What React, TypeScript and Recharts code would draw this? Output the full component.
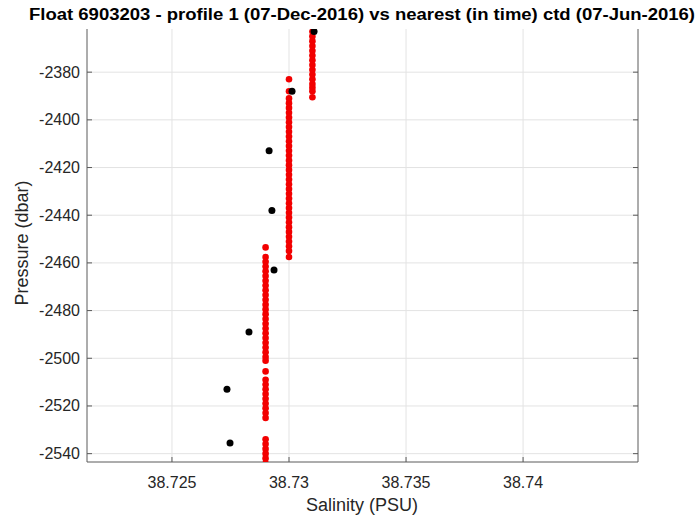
import React from 'react';
import {
    CartesianGrid,
    Scatter,
    ScatterChart,
    XAxis,
    YAxis,
} from 'recharts';

// float profile, red points, one column per salinity reading
const floatColA = 38.731;
const floatPresA = [
    -2363, -2365, -2367, -2369, -2371, -2373, -2375, -2377, -2379, -2381,
    -2383, -2385, -2386.5, -2388, -2390.5,
];
const floatColB = 38.73;
const floatPresB = [
    -2383, -2388, -2391, -2393, -2395, -2397, -2399, -2401, -2403, -2405,
    -2407, -2409, -2411, -2413, -2415, -2417, -2419, -2421, -2423, -2425,
    -2427, -2429, -2431, -2433, -2435, -2437, -2439, -2441, -2443, -2445,
    -2447, -2449, -2451, -2453, -2455, -2457.5,
];
const floatColC = 38.729;
const floatPresC = [
    -2453.5, -2457.5, -2459.5, -2461.5, -2463.5, -2465.5, -2467.5, -2469.5,
    -2471.5, -2473.5, -2475.5, -2477.5, -2479.5, -2481.5, -2483.5, -2485.5,
    -2487.5, -2489.5, -2491.5, -2493.5, -2495.5, -2497.5, -2499.5, -2501,
    -2505.5, -2509, -2511, -2513, -2515, -2517, -2519, -2521, -2523, -2525,
    -2534, -2536, -2538, -2540, -2542, -2544,
];

// nearest ctd, black points
const ctdSalinity = [
    38.73107, 38.73013, 38.72915, 38.72927, 38.72936, 38.72829, 38.72735,
    38.72748,
];
const ctdPressure = [-2363, -2388, -2413, -2438, -2463, -2489, -2513, -2535.5];

const xTicks = [38.725, 38.73, 38.735, 38.74];
const yTicks = [-2540, -2520, -2500, -2480, -2460, -2440, -2420, -2400, -2380];

const xDomain = [38.72137, 38.74491];
const yDomain = [-2543.5, -2361.9];

const titleText =
    'Float 6903203 - profile 1 (07-Dec-2016) vs nearest (in time) ctd (07-Jun-2016)';

const floatData = [
    ...floatPresA.map((p) => ({ s: floatColA, p })),
    ...floatPresB.map((p) => ({ s: floatColB, p })),
    ...floatPresC.map((p) => ({ s: floatColC, p })),
];
const ctdData = ctdSalinity.map((s, i) => ({ s, p: ctdPressure[i] }));

const axisColor = '#5a5a5a';
const textColor = '#262626';
const font = '"Liberation Sans", Arial, sans-serif';
const TICK = 5;

const BottomTick = ({ x, y, payload }: any) => (
    <g>
        <line x1={x} y1={y} x2={x} y2={y - TICK} stroke={axisColor} />
        <text
            x={x}
            y={y + 20}
            textAnchor="middle"
            dominantBaseline="central"
            fontSize={16}
            fontFamily={font}
            fill={textColor}
        >
            {String(payload.value)}
        </text>
    </g>
);

const LeftTick = ({ x, y, payload }: any) => (
    <g>
        <line x1={x} y1={y} x2={x + TICK} y2={y} stroke={axisColor} />
        <text
            x={x - 7}
            y={y}
            textAnchor="end"
            dominantBaseline="central"
            fontSize={16}
            fontFamily={font}
            fill={textColor}
        >
            {String(payload.value)}
        </text>
    </g>
);

const TopTick = ({ x, y }: any) => (
    <line x1={x} y1={y} x2={x} y2={y + TICK} stroke={axisColor} />
);

const RightTick = ({ x, y }: any) => (
    <line x1={x} y1={y} x2={x - TICK} y2={y} stroke={axisColor} />
);

const App = () => {
    return (
        <div
            style={{
                position: 'absolute',
                left: 0,
                top: 0,
                width: 698,
                height: 520,
                background: '#fff',
            }}
        >
            <ScatterChart
                width={698}
                height={520}
                margin={{ top: 29, right: 0, bottom: 0, left: 0 }}
            >
                <CartesianGrid
                    stroke="#e3e3e3"
                    horizontalValues={yTicks}
                    verticalValues={xTicks}
                />
                <XAxis
                    dataKey="s"
                    type="number"
                    domain={xDomain}
                    allowDataOverflow
                    ticks={xTicks}
                    height={58}
                    tickSize={0}
                    tickMargin={0}
                    tickLine={false}
                    axisLine={{ stroke: axisColor }}
                    tick={<BottomTick />}
                    interval={0}
                />
                <XAxis
                    xAxisId="top"
                    orientation="top"
                    dataKey="s"
                    type="number"
                    domain={xDomain}
                    allowDataOverflow
                    ticks={xTicks}
                    height={0}
                    tickSize={0}
                    tickMargin={0}
                    tickLine={false}
                    axisLine={{ stroke: axisColor }}
                    tick={<TopTick />}
                    interval={0}
                />
                <YAxis
                    dataKey="p"
                    type="number"
                    domain={yDomain}
                    allowDataOverflow
                    ticks={yTicks}
                    width={87}
                    tickSize={0}
                    tickMargin={0}
                    tickLine={false}
                    axisLine={{ stroke: axisColor }}
                    tick={<LeftTick />}
                    interval={0}
                />
                <YAxis
                    yAxisId="right"
                    orientation="right"
                    dataKey="p"
                    type="number"
                    domain={yDomain}
                    allowDataOverflow
                    ticks={yTicks}
                    width={60}
                    tickSize={0}
                    tickMargin={0}
                    tickLine={false}
                    axisLine={{ stroke: axisColor }}
                    tick={<RightTick />}
                    interval={0}
                />
                <Scatter
                    data={floatData}
                    fill="#f20000"
                    shape={(props: any) => (
                        <circle cx={props.cx} cy={props.cy} r={3.3} fill="#f20000" />
                    )}
                    isAnimationActive={false}
                />
                <Scatter
                    data={ctdData}
                    fill="#000"
                    shape={(props: any) => (
                        <circle cx={props.cx} cy={props.cy} r={3.5} fill="#000" />
                    )}
                    isAnimationActive={false}
                />
            </ScatterChart>
            <svg
                width={698}
                height={520}
                style={{ position: 'absolute', left: 0, top: 0, pointerEvents: 'none' }}
            >
                <text
                    x={362}
                    y={20}
                    textAnchor="middle"
                    fontSize={16}
                    fontWeight="bold"
                    fontFamily={font}
                    fill="#000"
                    textLength={666}
                    lengthAdjust="spacingAndGlyphs"
                >
                    {titleText}
                </text>
                <text
                    x={362}
                    y={505}
                    textAnchor="middle"
                    dominantBaseline="central"
                    fontSize={18}
                    fontFamily={font}
                    fill={textColor}
                >
                    Salinity (PSU)
                </text>
                <text
                    transform="translate(22,243) rotate(-90)"
                    textAnchor="middle"
                    dominantBaseline="central"
                    fontSize={18}
                    fontFamily={font}
                    fill={textColor}
                >
                    Pressure (dbar)
                </text>
            </svg>
        </div>
    );
};

export default App;
